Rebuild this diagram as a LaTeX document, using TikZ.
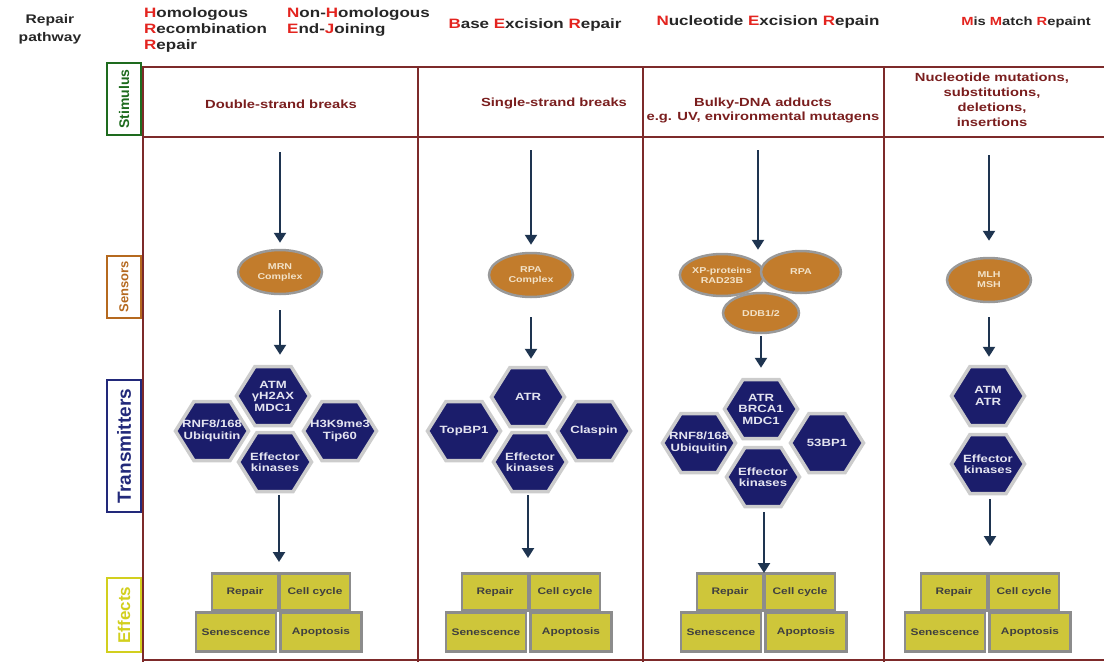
\documentclass[tikz,border=0pt]{standalone}
\usepackage{fontspec}
\setmainfont{Liberation Sans}[FakeStretch=1.25]
\newfontfamily\rowfont{Liberation Sans}
\usepackage{tikz}
\usetikzlibrary{shapes.geometric, shapes.symbols, arrows.meta}
\definecolor{pathred}{HTML}{E3241F}
\definecolor{tabline}{HTML}{7D2A2A}
\definecolor{stimtext}{HTML}{7A1E1E}
\definecolor{sensfill}{HTML}{C27C2C}
\definecolor{senstext}{HTML}{F2E2C8}
\definecolor{hexfill}{HTML}{1B1D6B}
\definecolor{hextext}{HTML}{E4E4F0}
\definecolor{effill}{HTML}{CEC63A}
\definecolor{flowcol}{HTML}{1E3450}
\definecolor{stimgreen}{HTML}{1E6B1E}
\definecolor{sensbrown}{HTML}{B5691F}
\definecolor{transblue}{HTML}{22297A}
\definecolor{effyellow}{HTML}{D2CF1E}
\newcommand{\rl}[1]{\textcolor{pathred}{#1}}

\begin{document}
\begin{tikzpicture}[x=1pt, y=-1pt,
    header/.style={font=\fontsize{13.6}{16}\selectfont\bfseries, text=black!85, inner sep=0pt},
    stim/.style={font=\fontsize{11.8}{14}\selectfont\bfseries, text=stimtext, align=center, inner sep=0pt},
    rowlabel/.style 2 args={draw=#1, text=#1, line width=2pt, rotate=90, minimum height=34pt, inner sep=0pt, font=\rowfont\bfseries\fontsize{#2}{#2}\selectfont},
    sensor/.style={ellipse, fill=sensfill, draw=black!40, line width=2.5pt, minimum width=84pt, minimum height=44pt, inner sep=0pt, align=center, text=senstext, font=\fontsize{8.5}{10}\selectfont\bfseries},
    hexlabel/.style={align=center, text=hextext, inner sep=0pt, font=\fontsize{10.5}{11.5}\selectfont\bfseries},
    hexa/.style={signal, signal to=east and west, signal pointer angle=116, minimum width=73pt, minimum height=59pt, inner sep=0pt, fill=hexfill, draw=black!20, line width=3.5pt, label={[hexlabel]center:#1}},
    effect/.style={rectangle, fill=effill, draw=black!45, line width=2.5pt, minimum height=37pt, inner sep=0pt, text=black!75, font=\fontsize{9.5}{10}\selectfont\bfseries},
    flow/.style={draw=flowcol, line width=2.3pt, -{Triangle[length=10pt, width=12pt]}},
    tabrule/.style={draw=tabline, line width=2pt}
]
    \useasboundingbox (0,0) rectangle (1104,662);

    % Header row
    \node[header, font=\fontsize{12.5}{18}\selectfont\bfseries, align=center] (pathway) at (50,29) {Repair\\pathway};
    \node[header, anchor=north west, align=left] (hrr) at (144,7) {\rl{H}omologous\\\rl{R}ecombination\\\rl{R}epair};
    \node[header, anchor=north west, align=left] (nhej) at (287,7) {\rl{N}on-\rl{H}omologous\\\rl{E}nd-\rl{J}oining};
    \node[header] (ber) at (535,25) {\rl{B}ase \rl{E}xcision \rl{R}epair};
    \node[header] (ner) at (768,22) {\rl{N}ucleotide \rl{E}xcision \rl{R}epain};
    \node[header, font=\fontsize{11.8}{14}\selectfont\bfseries] (mmr) at (1026,22) {\rl{M}is \rl{M}atch \rl{R}epaint};

    % Table frame
    \draw[tabrule, line width=2.5pt] (143,67) -- (1104,67);
    \draw[tabrule, line width=2.5pt] (143,137) -- (1104,137);
    \draw[tabrule, line width=1.5pt] (143,660) -- (1104,660);
    \foreach \xc in {143,418,643,884} {
        \draw[tabrule] (\xc,66) -- (\xc,662);
    }

    % Row labels
    \node[rowlabel={stimgreen}{14}, minimum width=72pt] (lstim) at (124,99) {Stimulus};
    \node[rowlabel={sensbrown}{13}, minimum width=62pt] (lsens) at (124,287) {Sensors};
    \node[rowlabel={transblue}{19}, minimum width=132pt] (ltrans) at (124,446) {Transmitters};
    \node[rowlabel={effyellow}{17}, minimum width=74pt] (leff) at (124,615) {Effects};

    % Stimulus
    \node[stim] (dsb) at (281,104) {Double-strand breaks};
    \node[stim] (ssb) at (554,103) {Single-strand breaks};
    \node[stim] (bulky) at (763,110) {Bulky-DNA adducts\\e.g. UV, environmental mutagens};
    \node[stim, font=\fontsize{11.8}{15}\selectfont\bfseries] (mut) at (992,100) {Nucleotide mutations,\\substitutions,\\deletions,\\insertions};

    % Sensors
    \node[sensor] (mrn) at (280,272) {MRN\\Complex};
    \node[sensor] (rpa) at (531,275) {RPA\\Complex};
    \node[sensor, minimum width=80pt, minimum height=42pt] (xp) at (722,275) {XP-proteins\\RAD23B};
    \node[sensor, minimum width=80pt, minimum height=42pt] (rpb) at (801,272) {RPA};
    \node[sensor, minimum width=76pt, minimum height=40pt] (ddb) at (761,313) {DDB1/2};
    \node[sensor] (mlh) at (989,280) {MLH\\MSH};

    % Transmitters
    \node[hexa={ATM\\γH2AX\\MDC1}] (atm1) at (273,396) {};
    \node[hexa={RNF8/168\\Ubiquitin}] (rnf1) at (212,431) {};
    \node[hexa={H3K9me3\\Tip60}] (h3k) at (340,431) {};
    \node[hexa={Effector\\kinases}] (eff1) at (275,462) {};

    \node[hexa={ATR}] (atr2) at (528,397) {};
    \node[hexa={TopBP1}] (top2) at (464,431) {};
    \node[hexa={Claspin}] (clsp) at (594,431) {};
    \node[hexa={Effector\\kinases}] (eff2) at (530,462) {};

    \node[hexa={ATR\\BRCA1\\MDC1}] (atr3) at (761,409) {};
    \node[hexa={RNF8/168\\Ubiquitin}] (rnf3) at (699,443) {};
    \node[hexa={53BP1}] (bp53) at (827,443) {};
    \node[hexa={Effector\\kinases}] (eff3) at (763,477) {};

    \node[hexa={ATM\\ATR}] (atm4) at (988,396) {};
    \node[hexa={Effector\\kinases}] (eff4) at (988,464) {};

    % Effects
    \foreach \c/\xc in {1/245, 2/495, 3/730, 4/954} {
        \node[effect, minimum width=66pt] (rep\c) at (\xc,592) {Repair};
        \node[effect, minimum width=70pt] (cyc\c) at (\xc+70,592) {Cell cycle};
        \node[effect, minimum width=80pt, minimum height=39pt] (sen\c) at (\xc-9,632) {Senescence};
        \node[effect, minimum width=81pt, minimum height=39pt] (apo\c) at (\xc+76,632) {Apoptosis};
    }

    % Arrows
    \coordinate (in1) at (280,152);
    \coordinate (in2) at (531,150);
    \coordinate (in3) at (758,150);
    \coordinate (in4) at (989,155);
    \coordinate (out1) at (279,562);
    \coordinate (out2) at (528,558);
    \coordinate (out3) at (764,573);
    \coordinate (out4) at (990,546);

    \draw[flow, shorten >=6pt] (in1) -- (mrn);
    \draw[flow, shorten >=7pt] (in2) -- (rpa);
    \draw[flow] (in3) -- (in3 |- rpb.north);
    \draw[flow, shorten >=16pt] (in4) -- (mlh);

    \draw[flow, shorten <=15pt, shorten >=10pt] (mrn.south) -- (mrn.south |- atm1.north);
    \draw[flow, shorten <=19pt, shorten >=7pt] (rpa.south) -- (rpa.south |- atr2.north);
    \draw[flow, shorten <=2pt, shorten >=10pt] (ddb.south) -- (ddb.south |- atr3.north);
    \draw[flow, shorten <=14pt, shorten >=8pt] (mlh.south) -- (mlh.south |- atm4.north);

    \draw[flow, shorten <=2pt] (eff1.south -| out1) -- (out1);
    \draw[flow, shorten <=2pt] (eff2.south -| out2) -- (out2);
    \draw[flow, shorten <=4pt] (eff3.south -| out3) -- (out3);
    \draw[flow, shorten <=4pt] (eff4.south -| out4) -- (out4);
\end{tikzpicture}
\end{document}
